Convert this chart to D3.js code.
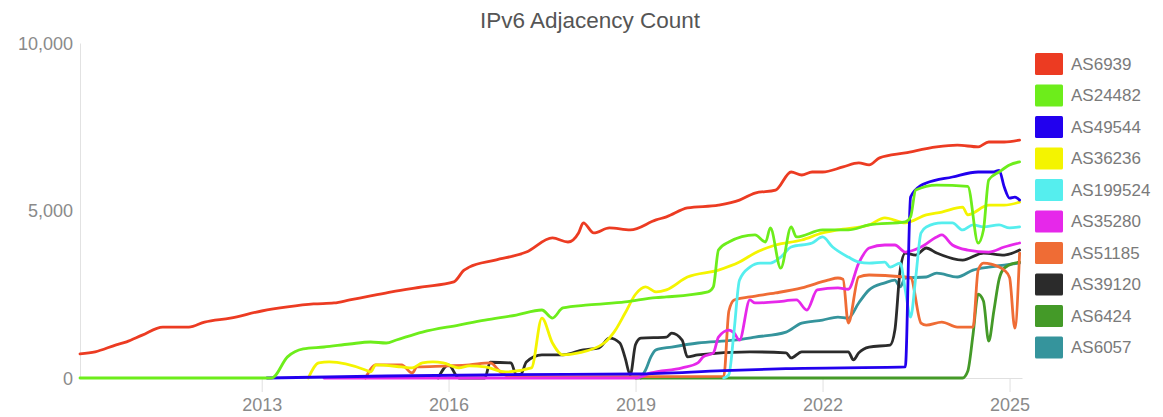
<!DOCTYPE html>
<html>
<head>
<meta charset="utf-8">
<script src="https://cdn.jsdelivr.net/npm/d3@7"></script>
<style>
  html, body { margin: 0; padding: 0; background: #fff; }
  svg { display: block; font-family: "Liberation Sans", Arial, sans-serif; }
</style>
</head>
<body>
<svg id="chart" width="1163" height="417"></svg>
<script>
// IPv6 adjacency counts per AS, monthly samples ["YYYY-MM", count]
const AS6939 = [
  ["2010-02", 720], ["2010-05", 780], ["2010-09", 990], ["2010-11", 1080], ["2011-02", 1280],
  ["2011-06", 1520], ["2011-11", 1520], ["2012-02", 1670], ["2012-07", 1790], ["2013-01", 2000],
  ["2013-06", 2120], ["2013-11", 2210], ["2014-03", 2240], ["2014-06", 2330], ["2014-10", 2450],
  ["2015-02", 2570], ["2015-08", 2720], ["2016-02", 2870], ["2016-04", 3220], ["2016-05", 3310],
  ["2016-10", 3520], ["2017-04", 3760], ["2017-09", 4180], ["2017-12", 4060], ["2018-02", 4330],
  ["2018-03", 4630], ["2018-05", 4330], ["2018-08", 4480], ["2018-12", 4420], ["2019-05", 4720],
  ["2019-07", 4810], ["2019-11", 5075], ["2020-05", 5160], ["2020-09", 5310], ["2020-12", 5520],
  ["2021-04", 5610], ["2021-07", 6150], ["2021-09", 6060], ["2021-11", 6150], ["2022-01", 6150],
  ["2022-05", 6300], ["2022-08", 6420], ["2022-10", 6360], ["2022-12", 6570], ["2023-05", 6720],
  ["2023-11", 6900], ["2024-03", 6950], ["2024-07", 6900], ["2024-09", 7045], ["2024-12", 7045],
  ["2025-03", 7100]
];
const AS24482 = [
  ["2010-02", 0], ["2013-03", 0], ["2013-06", 630], ["2013-09", 870], ["2014-01", 925],
  ["2014-06", 1015], ["2014-10", 1075], ["2015-01", 1045], ["2015-03", 1135], ["2015-08", 1370],
  ["2016-03", 1580], ["2016-08", 1730], ["2017-02", 1880], ["2017-07", 2030], ["2017-09", 1790],
  ["2017-11", 2090], ["2018-04", 2180], ["2018-11", 2270], ["2019-05", 2400], ["2019-07", 2420],
  ["2020-03", 2570], ["2020-04", 2720], ["2020-05", 3820], ["2020-07", 4060], ["2020-12", 4270],
  ["2021-02", 4060], ["2021-03", 4480], ["2021-05", 3280], ["2021-07", 4510], ["2021-08", 4210],
  ["2022-01", 4420], ["2022-06", 4420], ["2022-10", 4570], ["2023-05", 4660], ["2023-06", 4810],
  ["2023-07", 5610], ["2023-11", 5760], ["2024-05", 5720], ["2024-07", 4030], ["2024-08", 4420],
  ["2024-09", 5910], ["2024-11", 6150], ["2025-01", 6360], ["2025-03", 6450]
];
const AS49544 = [
  ["2013-02", 0], ["2015-01", 60], ["2017-01", 100], ["2019-01", 120], ["2020-06", 220],
  ["2021-06", 280], ["2023-05", 330], ["2023-06", 5400], ["2023-08", 5750], ["2023-09", 5820],
  ["2024-02", 6000], ["2024-07", 6150], ["2024-10", 6150], ["2024-11", 6200], ["2024-12", 5700],
  ["2025-01", 5370], ["2025-02", 5400], ["2025-03", 5310]
];
const AS36236 = [
  ["2013-10", 0], ["2013-12", 450], ["2014-02", 480], ["2014-09", 240], ["2014-10", 180],
  ["2014-11", 390], ["2015-04", 330], ["2015-06", 300], ["2015-08", 450], ["2015-10", 480],
  ["2015-12", 450], ["2016-03", 300], ["2016-05", 360], ["2016-08", 330], ["2016-12", 180],
  ["2017-05", 300], ["2017-07", 1790], ["2017-09", 1045], ["2017-11", 690], ["2018-02", 750],
  ["2018-07", 1045], ["2018-09", 1400], ["2018-11", 1940], ["2019-01", 2500], ["2019-03", 2720],
  ["2019-05", 2570], ["2019-07", 2630], ["2019-11", 3015], ["2020-05", 3220], ["2020-09", 3460],
  ["2020-12", 3730], ["2021-04", 3970], ["2021-09", 4120], ["2022-01", 4330], ["2022-04", 4420],
  ["2022-10", 4570], ["2023-01", 4780], ["2023-05", 4630], ["2023-09", 4870], ["2023-12", 4955],
  ["2024-04", 5100], ["2024-05", 4870], ["2024-09", 5160], ["2024-12", 5160], ["2025-03", 5250]
];
const AS199524 = [
  ["2020-06", 0], ["2020-07", 100], ["2020-08", 1430], ["2020-09", 2920], ["2020-11", 3310],
  ["2021-01", 3430], ["2021-03", 3430], ["2021-05", 3610], ["2021-07", 3910], ["2021-11", 4030],
  ["2022-01", 4210], ["2022-03", 3910], ["2022-06", 3610], ["2022-08", 3460], ["2022-10", 3430],
  ["2023-01", 3460], ["2023-02", 3310], ["2023-04", 3430], ["2023-05", 2630], ["2023-06", 1820],
  ["2023-07", 3000], ["2023-08", 4330], ["2023-09", 4510], ["2023-12", 4630], ["2024-02", 4630],
  ["2024-04", 4420], ["2024-06", 4570], ["2024-08", 4510], ["2024-11", 4570], ["2025-01", 4480],
  ["2025-03", 4510]
];
const AS35280 = [
  ["2014-01", 0], ["2019-01", 0], ["2019-04", 150], ["2019-10", 300], ["2020-01", 450],
  ["2020-02", 630], ["2020-04", 750], ["2020-05", 1220], ["2020-07", 1430], ["2020-08", 1340],
  ["2020-09", 1130], ["2020-11", 2330], ["2020-12", 2240], ["2021-04", 2270], ["2021-08", 2330],
  ["2021-10", 2030], ["2021-12", 2630], ["2022-04", 2690], ["2022-06", 2650], ["2022-08", 3430],
  ["2022-10", 3880], ["2023-01", 3970], ["2023-03", 3970], ["2023-05", 3760], ["2023-08", 3910],
  ["2023-11", 4210], ["2023-12", 4270], ["2024-02", 3970], ["2024-05", 3820], ["2024-09", 3760],
  ["2024-12", 3910], ["2025-03", 4030]
];
const AS51185 = [
  ["2014-09", 0], ["2014-11", 390], ["2015-04", 390], ["2015-06", 150], ["2015-07", 330],
  ["2016-01", 360], ["2016-05", 390], ["2016-09", 450], ["2016-11", 180], ["2017-01", 30],
  ["2020-06", 50], ["2020-07", 2000], ["2020-08", 2330], ["2020-11", 2420], ["2021-04", 2540],
  ["2021-09", 2690], ["2022-02", 2920], ["2022-04", 2985], ["2022-05", 2950], ["2022-06", 1640],
  ["2022-08", 3015], ["2022-10", 3075], ["2023-05", 3015], ["2023-06", 3000], ["2023-08", 1640],
  ["2023-09", 1580], ["2023-12", 1670], ["2024-03", 1520], ["2024-06", 1520], ["2024-07", 3220],
  ["2024-08", 3430], ["2024-11", 3310], ["2024-12", 3220], ["2025-01", 3000], ["2025-02", 1490],
  ["2025-03", 3730]
];
const AS39120 = [
  ["2015-11", 0], ["2016-01", 390], ["2016-03", 0], ["2016-08", 0], ["2016-09", 470],
  ["2017-01", 450], ["2017-02", 100], ["2017-03", 120], ["2017-04", 480], ["2017-07", 690],
  ["2017-11", 690], ["2018-03", 840], ["2018-06", 900], ["2018-08", 1190], ["2018-10", 1045],
  ["2018-11", 600], ["2018-12", 90], ["2019-01", 1000], ["2019-02", 1190], ["2019-07", 1220],
  ["2019-08", 1340], ["2019-10", 1130], ["2019-11", 630], ["2020-01", 690], ["2020-11", 780],
  ["2021-06", 750], ["2021-07", 600], ["2021-09", 780], ["2022-06", 780], ["2022-07", 540],
  ["2022-08", 750], ["2022-10", 925], ["2023-02", 985], ["2023-03", 1430], ["2023-04", 3220],
  ["2023-05", 3730], ["2023-07", 3670], ["2023-09", 3880], ["2023-11", 3730], ["2024-04", 3520],
  ["2024-08", 3730], ["2024-12", 3670], ["2025-03", 3820]
];
const AS6424 = [
  ["2019-01", 0], ["2024-04", 0], ["2024-05", 200], ["2024-06", 1300], ["2024-07", 2500],
  ["2024-08", 2300], ["2024-09", 1100], ["2024-10", 2000], ["2024-11", 2950], ["2024-12", 3280],
  ["2025-02", 3430], ["2025-03", 3460]
];
const AS6057 = [
  ["2019-02", 0], ["2019-03", 240], ["2019-04", 630], ["2019-05", 840], ["2019-08", 925],
  ["2020-01", 1045], ["2020-08", 1130], ["2020-12", 1220], ["2021-06", 1370], ["2021-09", 1640],
  ["2022-01", 1730], ["2022-04", 1820], ["2022-06", 1790], ["2022-08", 2240], ["2022-10", 2630],
  ["2023-01", 2840], ["2023-03", 2920], ["2023-04", 2720], ["2023-05", 2985], ["2023-09", 3015],
  ["2023-11", 3130], ["2024-03", 3015], ["2024-06", 3220], ["2024-09", 3310], ["2024-12", 3370],
  ["2025-03", 3430]
];

const seriesNames = ["AS6939", "AS24482", "AS49544", "AS36236", "AS199524",
                     "AS35280", "AS51185", "AS39120", "AS6424", "AS6057"];
const seriesValues = [AS6939, AS24482, AS49544, AS36236, AS199524,
                      AS35280, AS51185, AS39120, AS6424, AS6057];
const seriesColors = ["#ec3b22", "#6ded1b", "#2200ee", "#f4f400", "#55eeee",
                      "#e628ea", "#ef6c35", "#2b2b2b", "#449a28", "#35949c"];
const xTickYears = [2013, 2016, 2019, 2022, 2025];
const yTickValues = [0, 5000, 10000];
const chartTitle = "IPv6 Adjacency Count";

const parseMonth = d3.timeParse("%Y-%m");
const svg = d3.select("#chart");

const margin = { left: 80, right: 1022, top: 43, bottom: 378 };

const x = d3.scaleTime()
  .domain([new Date(2010, 1, 1), new Date(2025, 2, 15)])
  .range([margin.left, margin.right]);
const y = d3.scaleLinear()
  .domain([0, 10000])
  .range([margin.bottom, margin.top]);

// title
svg.append("text")
  .attr("x", 590).attr("y", 28)
  .attr("text-anchor", "middle")
  .attr("fill", "#555")
  .style("font-size", "22.5px")
  .text(chartTitle);

// y axis
const yAxis = svg.append("g")
  .attr("transform", `translate(${margin.left},0)`)
  .call(d3.axisLeft(y).tickValues(yTickValues).tickFormat(d3.format(",")).tickSize(0).tickPadding(7));
yAxis.select(".domain").attr("stroke", "#e2e2e2");
yAxis.selectAll("text").attr("fill", "#8a8a8a").style("font-size", "18px")
  .attr("dy", "0.35em");

// x axis
const xAxis = svg.append("g")
  .attr("transform", `translate(0,${margin.bottom})`)
  .call(d3.axisBottom(x)
    .tickValues(xTickYears.map(yr => new Date(yr, 0, 1)))
    .tickFormat(d3.timeFormat("%Y"))
    .tickSizeOuter(0).tickSizeInner(14).tickPadding(6));
xAxis.select(".domain").attr("stroke", "#e0e0e0");
xAxis.selectAll(".tick line").attr("stroke", "#e0e0e0");
xAxis.selectAll("text").attr("fill", "#8a8a8a").style("font-size", "18px");

// lines: later series underneath, AS6939 on top
const line = d3.line()
  .x(d => x(parseMonth(d[0])))
  .y(d => y(d[1]))
  .curve(d3.curveMonotoneX);

const drawOrder = seriesValues.map((values, i) => ({ values, i })).reverse();
svg.append("g").selectAll("path")
  .data(drawOrder)
  .join("path")
  .attr("d", d => line(d.values))
  .attr("fill", "none")
  .attr("stroke", d => seriesColors[d.i])
  .attr("stroke-width", 2.8)
  .attr("stroke-linejoin", "round")
  .attr("stroke-linecap", "round");

// legend
const legend = svg.append("g").attr("transform", "translate(1035,53)");
const item = legend.selectAll("g")
  .data(seriesNames)
  .join("g")
  .attr("transform", (d, i) => `translate(0,${i * 31.5})`);
item.append("rect")
  .attr("width", 28).attr("height", 22).attr("rx", 1.5)
  .attr("fill", (d, i) => seriesColors[i]);
item.append("text")
  .attr("x", 36).attr("y", 11).attr("dy", "0.35em")
  .attr("fill", "#7a7a7a")
  .style("font-size", "17px")
  .text(d => d);
</script>
</body>
</html>
